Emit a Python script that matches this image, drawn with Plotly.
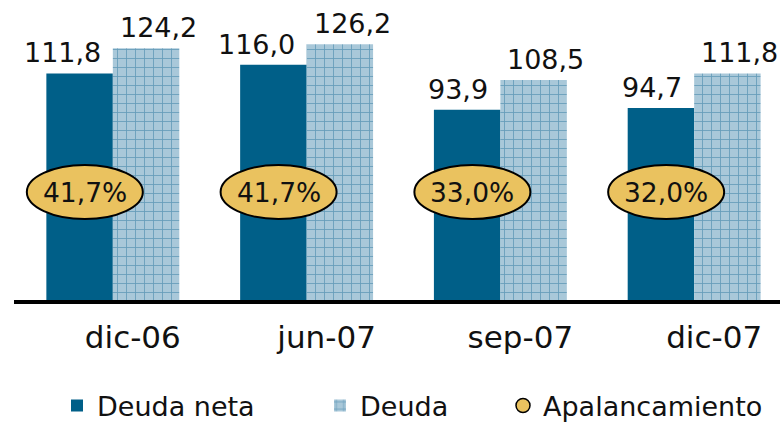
import plotly.graph_objects as go

# ---- data ----
categories = ["dic-06", "jun-07", "sep-07", "dic-07"]
deuda_neta = [111.8, 116.0, 93.9, 94.7]
deuda = [124.2, 126.2, 108.5, 111.8]
apalancamiento = [41.7, 41.7, 33.0, 32.0]


def fmt(v, suffix=""):
    return f"{v:.1f}".replace(".", ",") + suffix


FONT = "DejaVu Sans"
DARK = "#005f88"
LIGHT_BG = "#a9c8d9"
LIGHT_FG = "#22709a"
GOLD = "#eac25f"
BADGE_Y = 0.36  # paper fraction for the badge row

fig = go.Figure()
fig.add_trace(go.Bar(
    x=categories, y=deuda_neta, name="Deuda neta",
    marker=dict(color=DARK, line_width=0), legend="legend",
))
fig.add_trace(go.Bar(
    x=categories, y=deuda, name="Deuda",
    marker=dict(color=LIGHT_BG, line_width=0,
                pattern=dict(shape="+", fgcolor=LIGHT_FG, bgcolor=LIGHT_BG,
                             size=9, solidity=0.18)),
    legend="legend2",
))
fig.add_trace(go.Scatter(
    x=[None], y=[None], mode="markers", name="Apalancamiento",
    marker=dict(size=14, color=GOLD, line=dict(color="black", width=1.5)),
    legend="legend3",
))

# value labels
for c, v in zip(categories, deuda_neta):
    fig.add_annotation(x=c, y=v, text=fmt(v), showarrow=False,
                       xanchor="right", yanchor="bottom", xshift=-10, yshift=3,
                       font=dict(family=FONT, size=27, color="#111"))
for c, v in zip(categories, deuda):
    fig.add_annotation(x=c, y=v, text=fmt(v), showarrow=False,
                       xanchor="left", yanchor="bottom", xshift=5, yshift=3,
                       font=dict(family=FONT, size=27, color="#111"))

# leverage badges
for c, p in zip(categories, apalancamiento):
    fig.add_shape(type="circle", xref="x", yref="paper",
                  xsizemode="pixel", ysizemode="pixel",
                  xanchor=c, yanchor=BADGE_Y,
                  x0=-86, x1=30, y0=-27, y1=27,
                  fillcolor=GOLD, line=dict(color="black", width=2),
                  layer="above")
    fig.add_annotation(x=c, y=BADGE_Y, yref="paper", text=fmt(p, "%"),
                       showarrow=False, xanchor="center", yanchor="middle",
                       xshift=-28, font=dict(family=FONT, size=26.5, color="#111"))

legend_common = dict(orientation="h", xref="container", yref="container",
                     xanchor="left", yanchor="middle", y=0.038,
                     bgcolor="rgba(0,0,0,0)", borderwidth=0,
                     font=dict(family=FONT, size=27, color="#111"))

fig.update_layout(
    width=780, height=422,
    margin=dict(l=14, r=0, t=0, b=122),
    paper_bgcolor="white", plot_bgcolor="white",
    barmode="group", bargap=0.314, bargroupgap=0,
    showlegend=True,
    legend=dict(x=57 / 780, **legend_common),
    legend2=dict(x=320 / 780, **legend_common),
    legend3=dict(x=503 / 780, **legend_common),
    xaxis=dict(type="category", range=[-0.51, 3.443],
               showline=True, linecolor="black", linewidth=4,
               ticks="", showgrid=False, zeroline=False,
               tickfont=dict(family=FONT, size=31, color="#111"),
               ticklabelshift=20, ticklabelstandoff=7),
    yaxis=dict(visible=False, range=[0, 148], showgrid=False, zeroline=False),
)

fig.write_html("out.html",
               config={"displayModeBar": False},
               post_script="document.body.style.margin='0';document.body.style.overflow='hidden';")
